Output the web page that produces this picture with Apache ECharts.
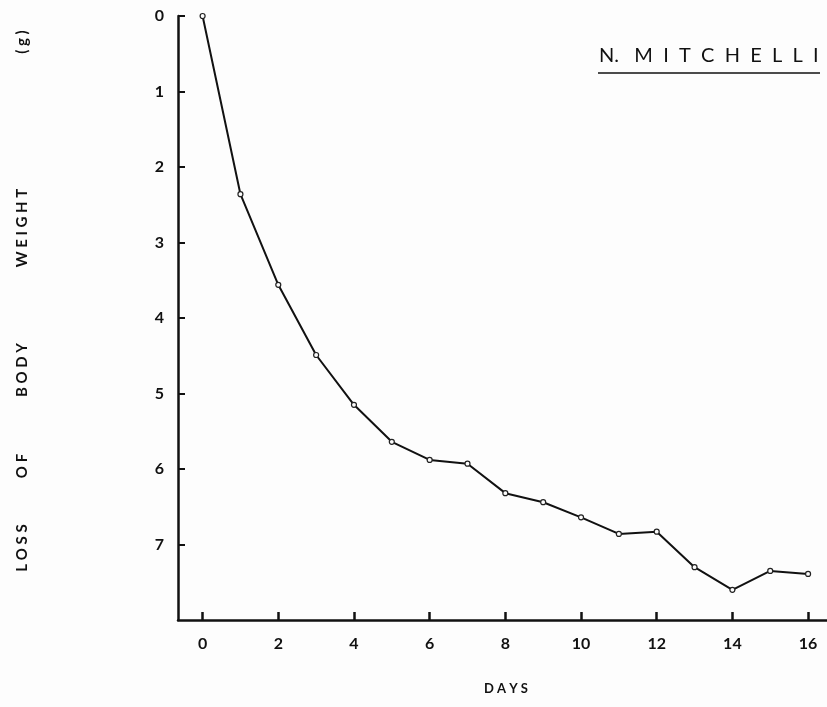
<!DOCTYPE html>
<html><head><meta charset="utf-8">
<script src="https://cdn.jsdelivr.net/npm/echarts@6/dist/echarts.min.js"></script>
<style>html,body{margin:0;padding:0;background:#fdfdfd;}#c{width:827px;height:707px;}</style>
</head><body><div id="c"></div>
<script>
const days = [0,1,2,3,4,5,6,7,8,9,10,11,12,13,14,15,16];
const weightLoss = [0,2.36,3.56,4.49,5.15,5.64,5.88,5.93,6.32,6.44,6.64,6.86,6.83,7.30,7.60,7.35,7.39];
const xTicks = [0,2,4,6,8,10,12,14,16];
const yTicks = [0,1,2,3,4,5,6,7];
const title = 'N.   M  I  T  C  H  E  L  L  I';
const xTitle = 'D A Y S';
const yTitleWords = ['L O S S','O F','B O D Y','W E I G H T','( g )'];

const font = 'Lato, "DejaVu Sans", sans-serif';
const chart = echarts.init(document.getElementById('c'));
const yWordPos = [548, 466, 370, 228, 42];
chart.setOption({
  backgroundColor: '#fdfdfd',
  animation: false,
  grid: {left: 178, right: 0, top: 16, bottom: 87},
  xAxis: {
    type: 'value', min: -0.65, max: 16.5,
    splitLine: {show: false},
    axisLine: {onZero: false, lineStyle: {color: '#111', width: 2.5}},
    axisTick: {inside: true, length: 8, lineStyle: {color: '#111', width: 2.5}, customValues: xTicks},
    axisLabel: {customValues: xTicks, color: '#111', fontSize: 16, fontWeight: 'bold', fontFamily: font, margin: 16}
  },
  yAxis: {
    type: 'value', min: 0, max: 8, inverse: true,
    splitLine: {show: false},
    axisLine: {onZero: false, lineStyle: {color: '#111', width: 2.5}},
    axisTick: {inside: true, length: 7, lineStyle: {color: '#111', width: 2}, customValues: yTicks},
    axisLabel: {customValues: yTicks, color: '#111', fontSize: 16, fontWeight: 'bold', fontFamily: font, margin: 14}
  },
  series: [{
    type: 'line',
    data: days.map((d,i)=>[d, weightLoss[i]]),
    lineStyle: {color: '#111', width: 2},
    symbol: 'circle', symbolSize: 5,
    itemStyle: {color: '#fdfdfd', borderColor: '#222', borderWidth: 1.2}
  }],
  graphic: [
    {type: 'text', left: 599, top: 46, style: {text: title, font: '20px ' + font, fill: '#111'}},
    {type: 'line', shape: {x1: 598, y1: 73, x2: 820, y2: 73}, style: {stroke: '#111', lineWidth: 1.5}},
    {type: 'text', left: 484, top: 682, style: {text: xTitle, font: 'bold 13px ' + font, fill: '#111'}}
  ].concat(yTitleWords.map((w,i)=>({
    type: 'text', x: 22, y: yWordPos[i], rotation: Math.PI/2,
    style: {text: w, font: 'bold 15px ' + font, fill: '#111', align: 'center', verticalAlign: 'middle'}
  })))
});
</script></body></html>
